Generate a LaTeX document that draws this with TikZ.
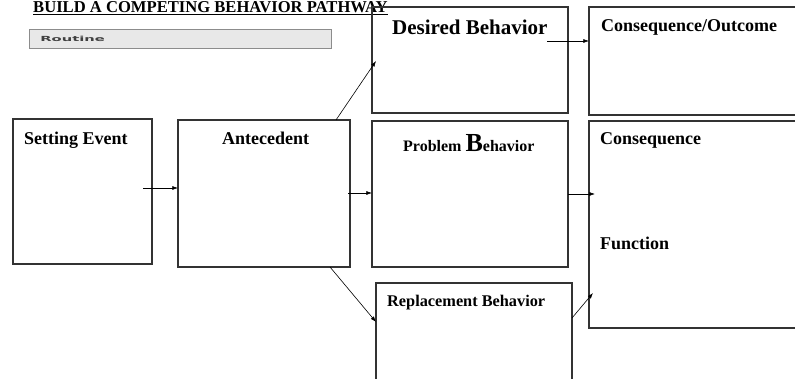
\documentclass[tikz,border=0pt]{standalone}
\usepackage{fontspec}
\setmainfont{Liberation Serif}
\newfontfamily\routinefont{DejaVu Sans}
\usetikzlibrary{arrows.meta,positioning,calc}

\begin{document}
\begin{tikzpicture}[
    x=1pt, y=-1pt,
    box/.style={rectangle, draw=black!80, line width=1.1pt, anchor=north west, inner sep=0pt, outer sep=0pt},
    lbl/.style={anchor=base west, inner sep=0pt, font=\bfseries\fontsize{18}{20}\selectfont},
    arrow/.style={-{Latex[length=2mm,width=1.4mm]}, line width=0.6pt}
  ]
    \useasboundingbox (0,0) rectangle (795,379);
    \clip (0,0) rectangle (795,379);
    \fill[white] (0,0) rectangle (795,379);

    % title and routine bar
    \node[lbl, font=\bfseries\fontsize{16.6}{18}\selectfont] (title) at (33,12.5) {\underline{BUILD A COMPETING BEHAVIOR PATHWAY}};
    \node[box, draw=black!45, line width=0.8pt, fill=black!9, minimum width=302pt, minimum height=19pt] (routine) at (29,29) {};
    \node[anchor=west, inner sep=0pt, xscale=2.1, font=\routinefont\bfseries\fontsize{7}{7}\selectfont, text=black!75] (routinetxt) at (40,38.5) {Routine};

    % boxes
    \node[box, minimum width=139pt, minimum height=145pt] (se) at (13,119) {};
    \node[box, minimum width=172pt, minimum height=147pt] (ant) at (178,120) {};
    \node[box, minimum width=196pt, minimum height=106pt] (des) at (372,7) {};
    \node[box, minimum width=215pt, minimum height=108pt] (out) at (589,7) {};
    \node[box, minimum width=196pt, minimum height=146pt] (prob) at (372,121) {};
    \node[box, minimum width=215pt, minimum height=207pt] (cons) at (589,121) {};
    \node[box, minimum width=196pt, minimum height=120pt] (repl) at (376,283) {};

    % labels
    \node[lbl] (setxt) at (24,145) {Setting Event};
    \node[lbl] (anttxt) at (222,145) {Antecedent};
    \node[lbl, font=\bfseries\fontsize{21}{23}\selectfont] (destxt) at (392,35) {Desired Behavior};
    \node[lbl] (outtxt) at (601,32) {Consequence/Outcome};
    \node[lbl, font=\bfseries\fontsize{16}{18}\selectfont] (probtxt) at (403,152) {Problem {\fontsize{26}{26}\selectfont B}ehavior};
    \node[lbl] (constxt) at (600,145) {Consequence};
    \node[lbl] (functxt) at (600,250) {Function};
    \node[lbl, font=\bfseries\fontsize{16.3}{18}\selectfont] (repltxt) at (387,307) {Replacement Behavior};

    % connectors
    \draw[arrow] ([xshift=-9pt]se.east |- 0,188) -- (ant.west |- 0,188);
    \draw[arrow] ([xshift=-14pt]ant.north east) -- ([xshift=4pt]des.west |- 0,61);
    \draw[arrow] ([xshift=-2pt]ant.east |- 0,193) -- (prob.west |- 0,193);
    \draw[arrow] ([xshift=-20pt]ant.south east) -- (repl.west |- 0,322);
    \draw[arrow] ([xshift=-21pt]des.east |- 0,41) -- (out.west |- 0,41);
    \draw[arrow] (prob.east |- 0,194) -- ([xshift=6pt]cons.west |- 0,194);
    \draw[arrow] (repl.east |- 0,318) -- ([xshift=4pt]cons.west |- 0,293);
  \end{tikzpicture}
\end{document}
